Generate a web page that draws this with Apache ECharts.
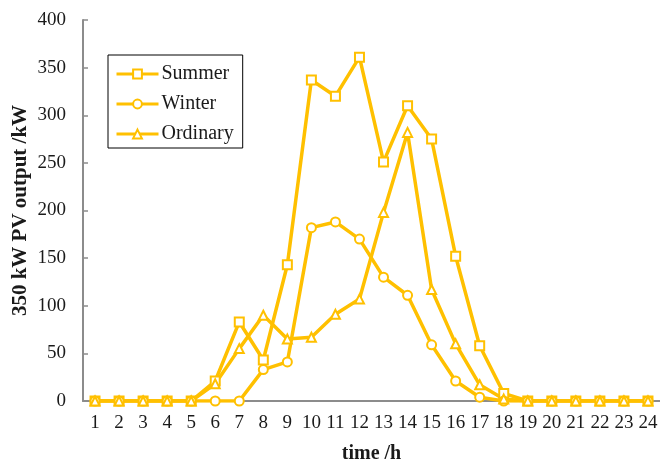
<!DOCTYPE html>
<html>
<head>
<meta charset="utf-8">
<script src="https://cdn.jsdelivr.net/npm/echarts@6/dist/echarts.min.js"></script>
<style>html,body{margin:0;padding:0;background:#fff}#c{width:660px;height:463px}</style>
</head>
<body>
<div id="c"></div>
<script>
const hours = ['1','2','3','4','5','6','7','8','9','10','11','12','13','14','15','16','17','18','19','20','21','22','23','24'];
const summer = [0,0,0,0,0,21,83,43,143,337,320,361,251,310,275,152,58,8,0,0,0,0,0,0];
const winter = [0,0,0,0,0,0,0,33,41,182,188,170,130,111,59,21,4,0,0,0,0,0,0,0];
const ordinary = [0,0,0,0,0,18,55,90,65,67,91,107,198,282,117,60,17,2,0,0,0,0,0,0];
const seriesNames = ['Summer','Winter','Ordinary'];

const gold = '#FFC000';
const axisGray = '#8c8c8c';
const font = '"Liberation Serif","Times New Roman",serif';

function mk(name, data, symbol) {
  return {
    name, type: 'line', data, symbol, symbolSize: 9,
    lineStyle: {color: gold, width: 3.5},
    itemStyle: {color: gold, borderColor: gold, borderWidth: 1.5},
    emphasis: {disabled: true},
    animation: false
  };
}

const chart = echarts.init(document.getElementById('c'));
chart.setOption({
  backgroundColor: '#fff',
  animation: false,
  grid: {left: 83, right: 0, top: 20, bottom: 62, outerBoundsMode: 'none', containLabel: false},
  legend: {
    orient: 'vertical', left: 108, top: 55,
    data: seriesNames,
    itemWidth: 42, itemHeight: 11, itemGap: 10,
    padding: [9, 9, 4, 7],
    borderColor: '#000', borderWidth: 1,
    lineStyle: {width: 3},
    textStyle: {fontFamily: font, fontSize: 20, lineHeight: 20, color: '#1a1a1a', padding: [0,0,0,-2]}
  },
  xAxis: {
    type: 'category', data: hours, boundaryGap: true,
    name: 'time /h', nameLocation: 'middle', nameGap: 43,
    nameTextStyle: {fontFamily: font, fontSize: 20, fontWeight: 'bold', color: '#1a1a1a'},
    axisLine: {lineStyle: {color: axisGray, width: 2}},
    axisTick: {inside: true, length: 5, alignWithLabel: false, lineStyle: {color: axisGray, width: 1.5}},
    axisLabel: {fontFamily: font, fontSize: 19, color: '#1a1a1a', margin: 13, interval: 0},
    splitLine: {show: false}
  },
  yAxis: {
    type: 'value', min: 0, max: 400, interval: 50,
    name: '350 kW PV output /kW', nameLocation: 'middle', nameGap: 52, nameMoveOverlap: false,
    nameTextStyle: {fontFamily: font, fontSize: 21, fontWeight: 'bold', color: '#1a1a1a'},
    axisLine: {show: true, lineStyle: {color: axisGray, width: 2}},
    axisTick: {show: true, inside: true, length: 5, lineStyle: {color: axisGray, width: 1.5}},
    axisLabel: {fontFamily: font, fontSize: 19, color: '#1a1a1a', margin: 17},
    splitLine: {show: false}
  },
  series: [
    mk('Summer', summer, 'emptyRect'),
    mk('Winter', winter, 'emptyCircle'),
    mk('Ordinary', ordinary, 'emptyTriangle')
  ]
});
</script>
</body>
</html>
